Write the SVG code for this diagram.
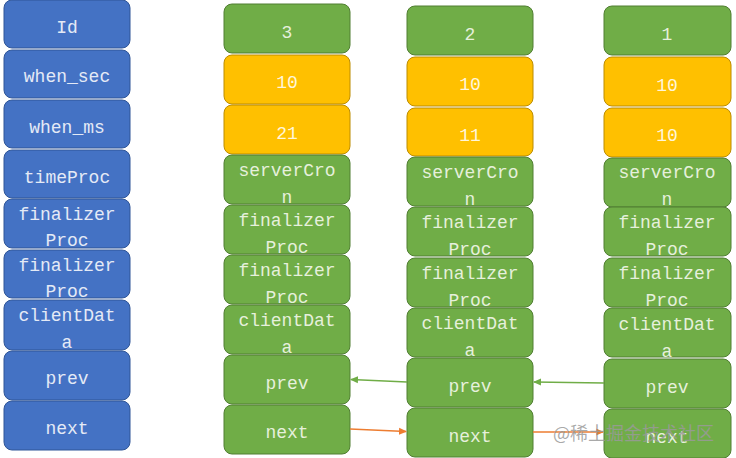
<svg xmlns="http://www.w3.org/2000/svg" width="736" height="458" viewBox="0 0 736 458">
<defs>
<style>
.b{fill:#4472C4;stroke:#2F5597;stroke-width:1}
.g{fill:#70AD47;stroke:#507E32;stroke-width:1}
.y{fill:#FFC000;stroke:#BC8C00;stroke-width:1}
text{font-family:"Liberation Mono","DejaVu Sans Mono",monospace;font-size:18px;text-anchor:middle}
.tb{fill:#E4EAF6}
.tg{fill:#E6F0DC}
.ty{fill:#FFF6DA}
.ap{stroke:#70AD47;stroke-width:1.5;fill:none}
.an{stroke:#ED7D31;stroke-width:1.5;fill:none}
.wm{font-family:"Noto Sans CJK SC","Liberation Sans",sans-serif;font-size:18px;fill:#9a9a9a;fill-opacity:0.85;text-anchor:start}
</style>
<marker id="mg" markerWidth="8" markerHeight="8" refX="7" refY="4" orient="auto" markerUnits="userSpaceOnUse"><path d="M0,0.5 L8,4 L0,7.5 Z" fill="#70AD47"/></marker>
<marker id="mo" markerWidth="8" markerHeight="8" refX="7" refY="4" orient="auto" markerUnits="userSpaceOnUse"><path d="M0,0.5 L8,4 L0,7.5 Z" fill="#ED7D31"/></marker>
</defs>
<rect width="736" height="458" fill="#ffffff"/>

<g id="legend">
<g id="l-id"><rect class="b" x="4" y="0" width="126" height="48" rx="8"/><text class="tb" x="67" y="33">Id</text></g>
<g id="l-when_sec"><rect class="b" x="4" y="50" width="126" height="48" rx="8"/><text class="tb" x="67" y="82">when_sec</text></g>
<g id="l-when_ms"><rect class="b" x="4" y="100" width="126" height="48" rx="8"/><text class="tb" x="67" y="133">when_ms</text></g>
<g id="l-timeProc"><rect class="b" x="4" y="150" width="126" height="48" rx="8"/><text class="tb" x="67" y="183">timeProc</text></g>
<g id="l-fin1"><rect class="b" x="4" y="199" width="126" height="49" rx="8"/><text class="tb" x="67" y="220">finalizer</text><text class="tb" x="67" y="246">Proc</text></g>
<g id="l-fin2"><rect class="b" x="4" y="250" width="126" height="48" rx="8"/><text class="tb" x="67" y="271">finalizer</text><text class="tb" x="67" y="297">Proc</text></g>
<g id="l-client"><rect class="b" x="4" y="300" width="126" height="50" rx="8"/><text class="tb" x="67" y="321">clientDat</text><text class="tb" x="67" y="348">a</text></g>
<g id="l-prev"><rect class="b" x="4" y="351" width="126" height="49" rx="8"/><text class="tb" x="67" y="384">prev</text></g>
<g id="l-next"><rect class="b" x="4" y="401" width="126" height="49" rx="8"/><text class="tb" x="67" y="434">next</text></g>
</g>

<g id="node3">
<rect class="g" x="224" y="4" width="126" height="49" rx="8"/><text class="tg" x="287" y="38">3</text>
<rect class="y" x="224" y="55" width="126" height="49" rx="8"/><text class="ty" x="287" y="88">10</text>
<rect class="y" x="224" y="105" width="126" height="49" rx="8"/><text class="ty" x="287" y="139">21</text>
<rect class="g" x="224" y="155" width="126" height="49" rx="8"/><text class="tg" x="287" y="176">serverCro</text><text class="tg" x="287" y="203">n</text>
<rect class="g" x="224" y="205" width="126" height="49" rx="8"/><text class="tg" x="287" y="226">finalizer</text><text class="tg" x="287" y="253">Proc</text>
<rect class="g" x="224" y="255" width="126" height="49" rx="8"/><text class="tg" x="287" y="276">finalizer</text><text class="tg" x="287" y="303">Proc</text>
<rect class="g" x="224" y="305" width="126" height="49" rx="8"/><text class="tg" x="287" y="326">clientDat</text><text class="tg" x="287" y="353">a</text>
<rect class="g" x="224" y="355" width="126" height="49" rx="8"/><text class="tg" x="287" y="389">prev</text>
<rect class="g" x="224" y="405" width="126" height="49" rx="8"/><text class="tg" x="287" y="438">next</text>
</g>

<g id="node2">
<rect class="g" x="407" y="6" width="126" height="49" rx="8"/><text class="tg" x="470" y="40">2</text>
<rect class="y" x="407" y="57" width="126" height="49" rx="8"/><text class="ty" x="470" y="90">10</text>
<rect class="y" x="407" y="108" width="126" height="48" rx="8"/><text class="ty" x="470" y="141">11</text>
<rect class="g" x="407" y="157" width="126" height="49" rx="8"/><text class="tg" x="470" y="178">serverCro</text><text class="tg" x="470" y="205">n</text>
<rect class="g" x="407" y="207" width="126" height="49" rx="8"/><text class="tg" x="470" y="228">finalizer</text><text class="tg" x="470" y="255">Proc</text>
<rect class="g" x="407" y="258" width="126" height="49" rx="8"/><text class="tg" x="470" y="279">finalizer</text><text class="tg" x="470" y="306">Proc</text>
<rect class="g" x="407" y="308" width="126" height="49" rx="8"/><text class="tg" x="470" y="329">clientDat</text><text class="tg" x="470" y="356">a</text>
<rect class="g" x="407" y="358" width="126" height="49" rx="8"/><text class="tg" x="470" y="392">prev</text>
<rect class="g" x="407" y="408" width="126" height="49" rx="8"/><text class="tg" x="470" y="442">next</text>
</g>

<g id="node1">
<rect class="g" x="604" y="6" width="127" height="49" rx="8"/><text class="tg" x="667" y="40">1</text>
<rect class="y" x="604" y="57" width="127" height="49" rx="8"/><text class="ty" x="667" y="91">10</text>
<rect class="y" x="604" y="108" width="127" height="49" rx="8"/><text class="ty" x="667" y="141">10</text>
<rect class="g" x="604" y="158" width="127" height="49" rx="8"/><text class="tg" x="667" y="178">serverCro</text><text class="tg" x="667" y="205">n</text>
<rect class="g" x="604" y="207" width="127" height="49" rx="8"/><text class="tg" x="667" y="228">finalizer</text><text class="tg" x="667" y="255">Proc</text>
<rect class="g" x="604" y="258" width="127" height="49" rx="8"/><text class="tg" x="667" y="279">finalizer</text><text class="tg" x="667" y="306">Proc</text>
<rect class="g" x="604" y="308" width="127" height="49" rx="8"/><text class="tg" x="667" y="330">clientDat</text><text class="tg" x="667" y="357">a</text>
<rect class="g" x="604" y="359" width="127" height="49" rx="8"/><text class="tg" x="667" y="393">prev</text>
<rect class="g" x="604" y="409" width="127" height="49" rx="8"/><text class="tg" x="667" y="443">next</text>
</g>

<g id="connectors">
<line class="ap" x1="407" y1="382" x2="351" y2="379.5" marker-end="url(#mg)"/>
<line class="ap" x1="604" y1="383" x2="534" y2="382" marker-end="url(#mg)"/>
<line class="an" x1="350" y1="429" x2="406" y2="431.5" marker-end="url(#mo)"/>
<line class="an" x1="533" y1="432" x2="603" y2="432" marker-end="url(#mo)"/>
</g>

<text class="wm" x="553" y="440">@稀土掘金技术社区</text>
</svg>
